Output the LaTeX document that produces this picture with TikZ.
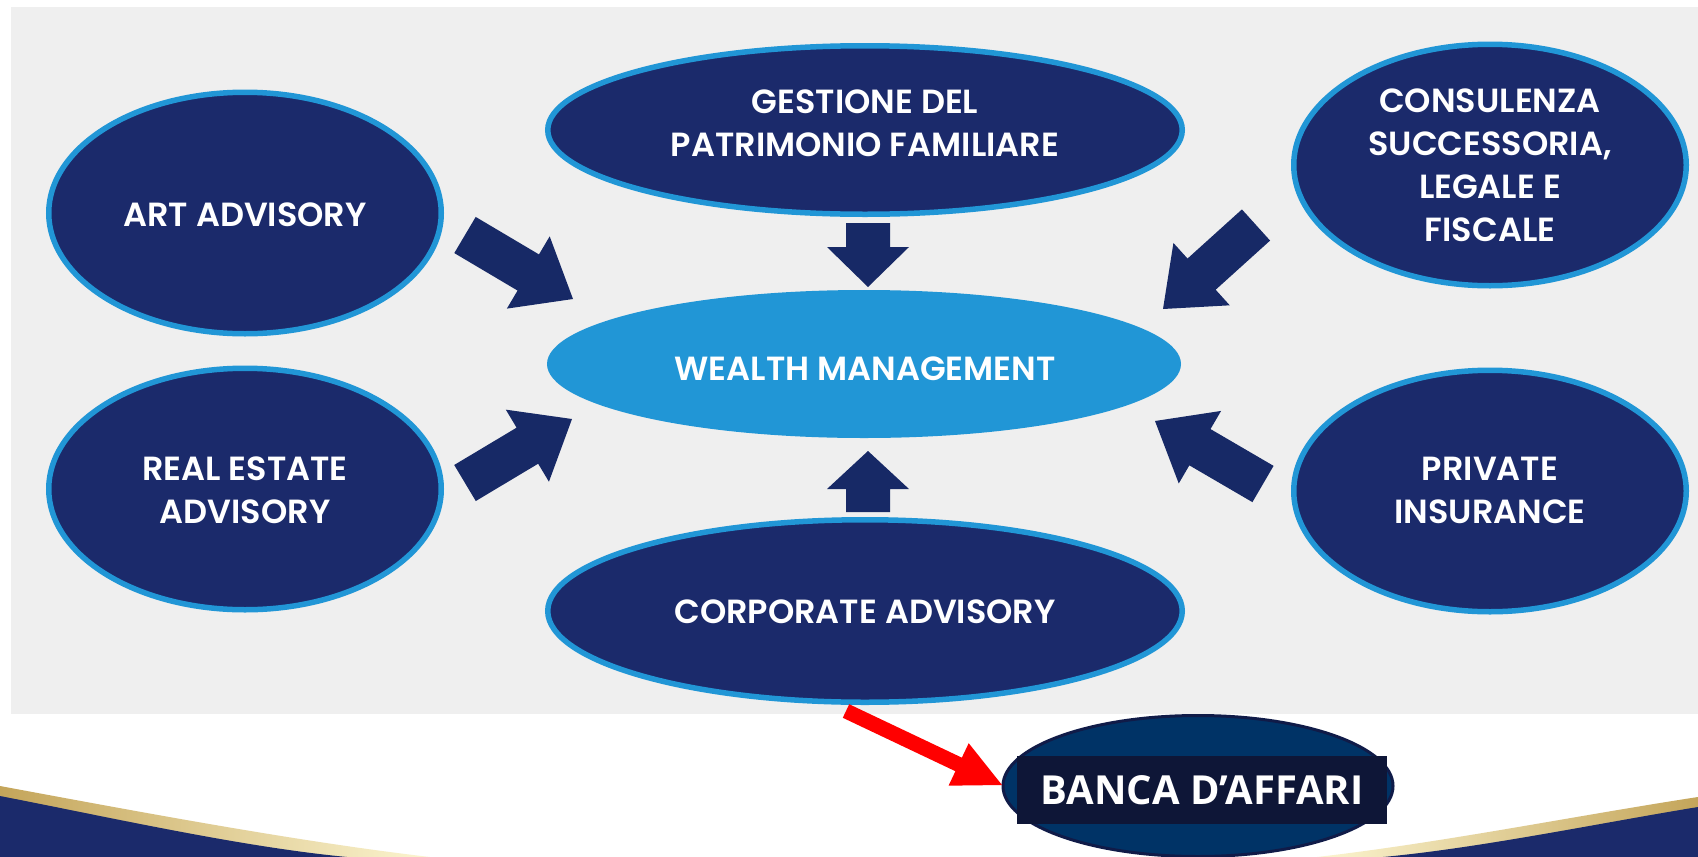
\documentclass[tikz,border=0pt]{standalone}
\usepackage{fontspec}
\setmainfont{Poppins}[BoldFont={Poppins SemiBold}]
\newfontfamily\bancafont{Open Sans}
\usetikzlibrary{shapes.geometric,calc}
\definecolor{panel}{HTML}{EFEFEF}
\definecolor{navy}{HTML}{1B2A6B}
\definecolor{lblue}{HTML}{2196D6}
\definecolor{arrnavy}{HTML}{172966}
\definecolor{bancafill}{HTML}{003366}
\definecolor{bancaline}{HTML}{101B48}
\definecolor{bancarect}{HTML}{0E1637}
\definecolor{gold}{HTML}{C4A55A}
\definecolor{goldmid}{HTML}{E2CF94}
\definecolor{cream}{HTML}{FCF5D0}
\definecolor{redarrow}{HTML}{FF0000}
% #1 tail, #2 tip, #3 shaft half width, #4 head half width, #5 head length, #6 colour
\newcommand\blockarr[6]{%
  \coordinate (ha) at ($(#2)!#5!(#1)$);
  \fill[#6] ($(#1)!#3!90:(#2)$) -- ($(ha)!#3!90:(#2)$) -- ($(ha)!#4!90:(#2)$) -- (#2)
    -- ($(ha)!#4!-90:(#2)$) -- ($(ha)!#3!-90:(#2)$) -- ($(#1)!#3!-90:(#2)$) -- cycle;}
\begin{document}
\begin{tikzpicture}[x=1pt,y=-1pt,
  bubble/.style={ellipse, draw=lblue, line width=5.5pt, fill=navy, inner sep=0pt},
  sidebubble/.style={bubble, minimum width=392.5pt, minimum height=241.5pt},
  wide/.style={bubble, minimum width=634.5pt},
  lab/.style={text=white, font=\fontsize{33.5}{43}\selectfont\bfseries, align=center, inner sep=0pt}]
\useasboundingbox (0,0) rectangle (1698,857);
\fill[white] (0,0) rectangle (1698,857);
\fill[panel] (11,7) rectangle (1698,714);
% bottom banner
\shade[left color=gold, middle color=goldmid, right color=cream]
  (0,786) .. controls (140,812) and (300,842) .. (430,857) -- (0,857) -- cycle;
\fill[navy] (0,796) .. controls (113,818) and (242,847) .. (347,857) -- (0,857) -- cycle;
\shade[left color=cream, middle color=goldmid, right color=gold]
  (1698,797) .. controls (1580,815) and (1440,843) .. (1317,857) -- (1698,857) -- cycle;
\fill[navy] (1698,807) .. controls (1600,823) and (1480,848) .. (1383,857) -- (1698,857) -- cycle;
% bubbles
\node[sidebubble] (art) at (245,213) {};
\node[sidebubble] (real) at (245,489) {};
\node[sidebubble] (cons) at (1490,165) {};
\node[sidebubble] (priv) at (1490,491) {};
\node[wide, minimum height=168.5pt] (gest) at (865,130) {};
\node[wide, minimum height=182.5pt] (corp) at (865,611) {};
\node[ellipse, fill=lblue, inner sep=0pt, minimum width=634pt, minimum height=148pt] (wm) at (864,364) {};
% labels
\node[lab] (artT) at (245,214.5) {ART ADVISORY};
\node[lab] (realT) at (245,490.5) {REAL ESTATE\\ADVISORY};
\node[lab] (consT) at (1490,165) {CONSULENZA\\SUCCESSORIA,\\LEGALE E\\FISCALE};
\node[lab] (privT) at (1490,490.5) {PRIVATE\\INSURANCE};
\node[lab] (gestT) at (865,123.5) {GESTIONE DEL\\PATRIMONIO FAMILIARE};
\node[lab] (corpT) at (865,612) {CORPORATE ADVISORY};
\node[lab] (wmT) at (865,368.5) {WEALTH MANAGEMENT};
% block arrows
\coordinate (a1t) at (465,235);  \coordinate (a1h) at (573,299);
\coordinate (a2t) at (465,483);  \coordinate (a2h) at (572,419);
\coordinate (a3t) at (1256,225); \coordinate (a3h) at (1163,309);
\coordinate (a4t) at (1263,484); \coordinate (a4h) at (1155,421);
\coordinate (a5t) at (868,223);  \coordinate (a5h) at (868,287);
\coordinate (a6t) at (868,512);  \coordinate (a6h) at (868,451);
\blockarr{a1t}{a1h}{21pt}{42pt}{52pt}{arrnavy}
\blockarr{a2t}{a2h}{21pt}{42pt}{52pt}{arrnavy}
\blockarr{a3t}{a3h}{21pt}{42pt}{52pt}{arrnavy}
\blockarr{a4t}{a4h}{21pt}{42pt}{52pt}{arrnavy}
\blockarr{a5t}{a5h}{22pt}{41pt}{40pt}{arrnavy}
\blockarr{a6t}{a6h}{22pt}{41pt}{38pt}{arrnavy}
% banca d'affari
\node[ellipse, draw=bancaline, line width=3pt, fill=bancafill, inner sep=0pt,
  minimum width=390pt, minimum height=141pt] (banca) at (1198,786) {};
\node[fill=bancarect, inner sep=0pt, minimum width=370pt, minimum height=68pt,
  text=white, font=\bancafont\bfseries\fontsize{40}{48}\selectfont] (bancabox) at (1202,790) {BANCA D’AFFARI};
\coordinate (rt) at (846,711); \coordinate (rh) at (1002,785);
\blockarr{rt}{rh}{7.5pt}{23.5pt}{48pt}{redarrow}
\end{tikzpicture}
\end{document}
